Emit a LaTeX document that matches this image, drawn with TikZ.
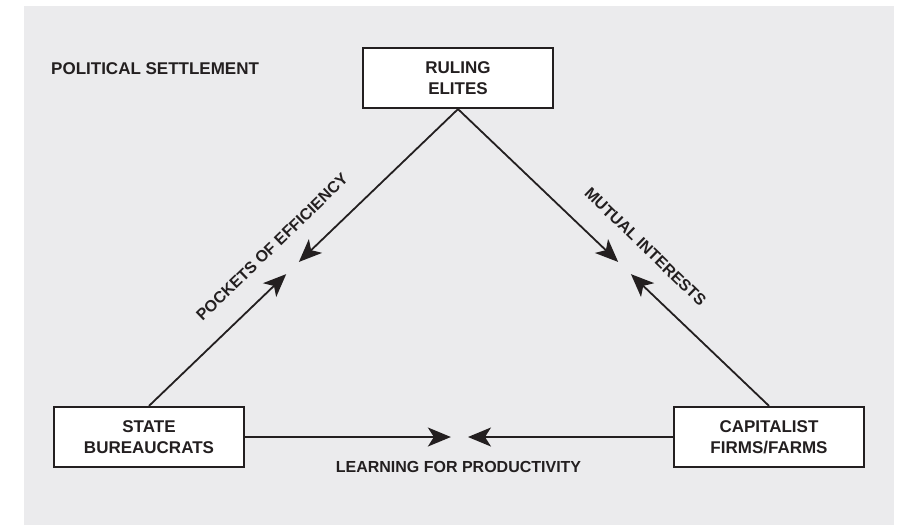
\documentclass[tikz,border=0pt]{standalone}
\usepackage{fontspec}
\setmainfont{Liberation Sans}
\usetikzlibrary{arrows.meta,calc}
\definecolor{bgGray}{RGB}{235,235,237}
\definecolor{inkDark}{RGB}{35,31,32}
\tikzset{
  actorbox/.style={draw=inkDark, line width=2.2pt, fill=white, minimum width=190pt, minimum height=60pt,
    align=center, inner sep=0pt, text=inkDark, font=\fontsize{17}{21}\selectfont\bfseries},
  linklabel/.style={text=inkDark, inner sep=0pt, font=\fontsize{16}{19}\selectfont\bfseries},
  flow/.style={draw=inkDark, line width=1.8pt, -{Stealth[length=23pt, width=19pt, inset=6pt]}}
}
\begin{document}
\begin{tikzpicture}[x=1pt, y=-1pt]
  \useasboundingbox (0,0) rectangle (901,525);
  \fill[bgGray] (24,6) rectangle (894,525);
  \node[anchor=base west, text=inkDark, inner sep=0pt, font=\fontsize{17}{21}\selectfont\bfseries] (title) at (51,74) {POLITICAL SETTLEMENT};
  \node[actorbox] (ruling) at (458,78) {RULING\\ELITES};
  \node[actorbox] (state) at (149,437) {STATE\\BUREAUCRATS};
  \node[actorbox] (capital) at (769,437) {CAPITALIST\\FIRMS/FARMS};
  % left side
  \draw[flow] (ruling.south) -- ($(ruling.south)!0.515!(state.north)$);
  \draw[flow] (state.north) -- ($(ruling.south)!0.556!(state.north)$);
  % right side
  \draw[flow] (ruling.south) -- ($(ruling.south)!0.515!(capital.north)$);
  \draw[flow] (capital.north) -- ($(ruling.south)!0.556!(capital.north)$);
  % bottom
  \draw[flow] (state.east) -- ($(state.east)!0.481!(capital.west)$);
  \draw[flow] (capital.west) -- ($(state.east)!0.521!(capital.west)$);
  % labels
  \node[linklabel, rotate=44.06] (pocket) at (272,247) {POCKETS OF EFFICIENCY};
  \node[linklabel, rotate=-44.06] (mutual) at (645.5,247) {MUTUAL INTERESTS};
  \node[linklabel, anchor=base] (learn) at (458.5,472.5) {LEARNING FOR PRODUCTIVITY};
\end{tikzpicture}
\end{document}
